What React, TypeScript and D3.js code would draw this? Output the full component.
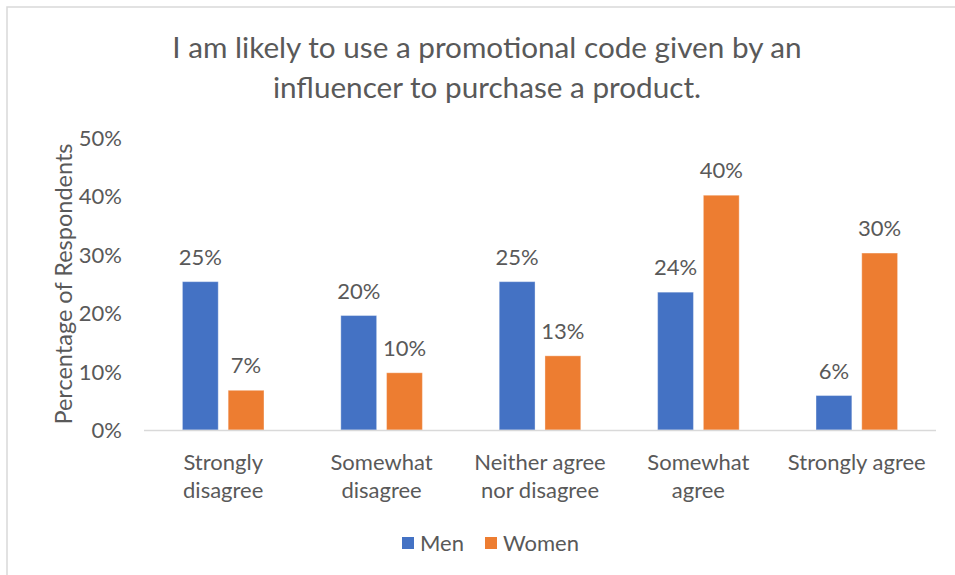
import React from "react";
import * as d3 from "d3";

const categories = ["Strongly disagree", "Somewhat disagree", "Neither agree nor disagree", "Somewhat agree", "Strongly agree"];
const categoryLines = [["Strongly", "disagree"], ["Somewhat", "disagree"], ["Neither agree", "nor disagree"], ["Somewhat", "agree"], ["Strongly agree"]];
const seriesNames = ["Men", "Women"];
const menValues = [25.4, 19.6, 25.4, 23.6, 5.9];
const womenValues = [6.8, 9.8, 12.7, 40.2, 30.3];
const yTicks = [0, 10, 20, 30, 40, 50];
const titleLines = ["I am likely to use a promotional code given by an", "influencer to purchase a product."];
const yAxisTitle = "Percentage of Respondents";

const COLORS: Record<string, string> = { Men: "#4472C4", Women: "#ED7D31" };
const TEXT = "#595959";
const FONT = "Lato, 'Open Sans', sans-serif";

export default function App() {
  const W = 955, H = 575;
  const left = 144, right = 936, top = 138, bottom = 430;
  const seriesValues: Record<string, number[]> = { Men: menValues, Women: womenValues };

  const x0 = d3.scaleBand<string>().domain(categories).range([left, right]).padding(0);
  const x1 = d3.scaleBand<string>().domain(seriesNames).range([0, x0.bandwidth()]).paddingInner(0.217).paddingOuter(0.84);
  const y = d3.scaleLinear().domain([0, 50]).range([bottom, top]);
  const fmt = (v: number) => `${Math.round(v)}%`;

  return (
    <svg width={W} height={H} style={{ position: "absolute", left: 0, top: 0, background: "#fff" }} fontFamily={FONT}>
      <rect x={7} y={7} width={W} height={H} fill="#fff" stroke="#d9d9d9" strokeWidth={1.5} />
      {titleLines.map((t, i) => (
        <text key={i} x={487} y={58 + i * 40} textAnchor="middle" fontSize={29.7} fill={TEXT}>{t}</text>
      ))}
      {yTicks.map((t) => (
        <text key={t} x={122} y={y(t)} dy="0.36em" textAnchor="end" fontSize={22} fill={TEXT}>{`${t}%`}</text>
      ))}
      <text transform={`translate(64,${(top + bottom) / 2}) rotate(-90)`} dy="0.36em" textAnchor="middle" fontSize={23.5} fill={TEXT}>{yAxisTitle}</text>
      {categories.map((c, ci) => (
        <g key={c}>
          {seriesNames.map((s) => {
            const v = seriesValues[s][ci];
            const bx = (x0(c) ?? 0) + (x1(s) ?? 0);
            return (
              <g key={s}>
                <rect x={bx} y={y(v)} width={x1.bandwidth()} height={y(0) - y(v)} fill={COLORS[s]} stroke="#ffffff" strokeOpacity={0.35} strokeWidth={1} />
                <text x={bx + x1.bandwidth() / 2} y={y(v) - 17} textAnchor="middle" fontSize={22} fill={TEXT}>{fmt(v)}</text>
              </g>
            );
          })}
          {categoryLines[ci].map((ln, li) => (
            <text key={li} x={(x0(c) ?? 0) + x0.bandwidth() / 2} y={462 + li * 28} dy="0.36em" textAnchor="middle" fontSize={22} fill={TEXT}>{ln}</text>
          ))}
        </g>
      ))}
      <line x1={left} x2={right} y1={bottom + 0.5} y2={bottom + 0.5} stroke="#d9d9d9" strokeWidth={1.5} />
      {seriesNames.map((s, i) => {
        const lx = [402, 485][i];
        return (
          <g key={s}>
            <rect x={lx} y={537} width={12} height={12} fill={COLORS[s]} />
            <text x={lx + 18} y={543} dy="0.36em" fontSize={22} fill={TEXT}>{s}</text>
          </g>
        );
      })}
    </svg>
  );
}
